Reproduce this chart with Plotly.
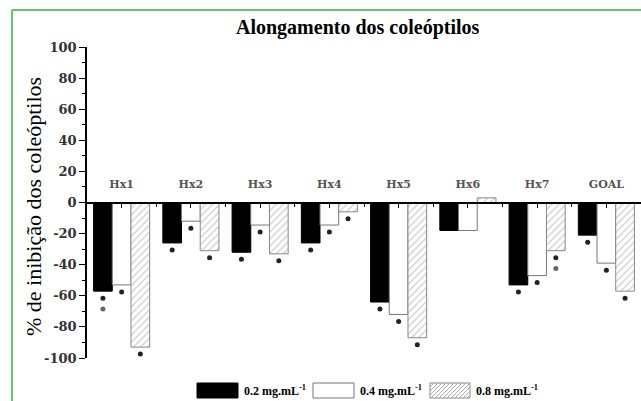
import plotly.graph_objects as go

# ---- data ----
categories = ["Hx1", "Hx2", "Hx3", "Hx4", "Hx5", "Hx6", "Hx7", "GOAL"]
conc_02 = [-57, -26, -32, -26, -64, -18, -53, -21]
conc_04 = [-53, -12, -14.5, -14.5, -72, -18, -47, -39]
conc_08 = [-93, -31, -33, -6, -87, 3, -31, -57]
sig_02 = [1, 1, 1, 1, 1, 0, 1, 1]
sig_04 = [1, 1, 1, 1, 1, 0, 1, 1]
sig_08 = [1, 1, 1, 1, 1, 0, 1, 1]
sig2_02 = [1, 0, 0, 0, 0, 0, 0, 0]
sig2_04 = [0, 0, 0, 0, 0, 0, 0, 0]
sig2_08 = [1, 0, 0, 0, 0, 0, 1, 0]
series_names = ["0.2 mg.mL<sup>-1</sup>", "0.4 mg.mL<sup>-1</sup>", "0.8 mg.mL<sup>-1</sup>"]
y_ticks = [-100, -80, -60, -40, -20, 0, 20, 40, 60, 80, 100]
y_title = "% de inibição dos coleóptilos"

SERIF = "Liberation Serif, Times New Roman, serif"
WIDE_SERIF = "DejaVu Serif, serif"
BARGAP = 0.19
x = list(range(len(categories)))

fig = go.Figure()
styles = [
    dict(marker=dict(color="black", line=dict(color="black", width=1))),
    dict(marker=dict(color="white", line=dict(color="#777", width=1))),
    dict(marker=dict(color="white", line=dict(color="#888", width=1),
                     pattern=dict(shape="/", fgcolor="#999", bgcolor="white", size=5, solidity=0.25))),
]
values = [conc_02, conc_04, conc_08]
sigs = [sig_02, sig_04, sig_08]
sigs2 = [sig2_02, sig2_04, sig2_08]
for k in range(3):
    fig.add_trace(go.Bar(x=x, y=values[k], name=series_names[k], cliponaxis=False,
                         showlegend=False, **styles[k]))

w = (1 - BARGAP) / 3
for k in range(3):
    xs, ys, xs2, ys2 = [], [], [], []
    for i in x:
        xi = i + (k - 1) * w
        if sigs[k][i]:
            xs.append(xi); ys.append(values[k][i] - 4.5)
        if sigs2[k][i]:
            xs2.append(xi); ys2.append(values[k][i] - 11.5)
    fig.add_trace(go.Scatter(x=xs, y=ys, mode="markers", cliponaxis=False, showlegend=False,
                             marker=dict(symbol="circle", size=5, color="#222")))
    if xs2:
        fig.add_trace(go.Scatter(x=xs2, y=ys2, mode="markers", cliponaxis=False, showlegend=False,
                                 marker=dict(symbol="circle", size=5, color="#666")))

fig.update_layout(
    width=641, height=401,
    margin=dict(l=87, r=0, t=47, b=43),
    paper_bgcolor="white", plot_bgcolor="white",
    barmode="group", bargap=BARGAP, bargroupgap=0,
    title=dict(text="<b>Alongamento dos coleóptilos</b>", x=0.558, xanchor="center",
               y=0.932, yanchor="middle", font=dict(family=SERIF, size=20, color="black")),
    xaxis=dict(range=[-0.5, 7.5], anchor="free", position=0.5, side="top",
               showline=True, linecolor="black", linewidth=1.5,
               tickmode="array", tickvals=x, ticktext=["<b>%s</b>" % c for c in categories],
               ticks="inside", ticklen=5, tickcolor="black", ticklabelstandoff=9,
               tickfont=dict(family=WIDE_SERIF, size=11, color="#555"),
               minor=dict(tick0=0.5, dtick=1, ticks="inside", ticklen=4, tickcolor="black"),
               showgrid=False, zeroline=False),
    yaxis=dict(range=[-100, 100], showline=True, linecolor="black", linewidth=1.5,
               tickmode="array", tickvals=y_ticks, ticktext=["<b>%d</b>" % v for v in y_ticks],
               ticks="outside", ticklen=6, tickcolor="black",
               minor=dict(dtick=10, ticks="outside", ticklen=3, tickcolor="black"),
               tickfont=dict(family=WIDE_SERIF, size=13, color="#333"),
               showgrid=False, zeroline=False),
)

# y-axis title placed as rotated annotation
fig.add_annotation(xref="paper", yref="paper", x=(33 - 87) / 554, y=(358 - 207) / 311,
                   xanchor="center", yanchor="middle", textangle=-90, showarrow=False,
                   text=y_title, font=dict(family=SERIF, size=22, color="black"))

# green frame (pixel offsets from bottom-left of plot area)
frame = dict(xref="paper", yref="paper", xsizemode="pixel", ysizemode="pixel",
             xanchor=0, yanchor=0, type="line", line=dict(color="#5cc96c", width=2))
fig.add_shape(x0=-75, x1=-75, y0=348, y1=-50, **frame)
fig.add_shape(x0=-75, x1=560, y0=348, y1=348, **frame)

# manual legend
box = dict(xref="paper", yref="paper", xsizemode="pixel", ysizemode="pixel",
           xanchor=0, yanchor=0, type="rect")
lg_y0, lg_y1 = -40, -25
boxes = [(110, 151), (226, 267), (343, 383)]
fills = [("black", "black"), ("white", "#777"), ("white", "#888")]
for (bx0, bx1), (fc, lc), name in zip(boxes, fills, series_names):
    fig.add_shape(x0=bx0, x1=bx1, y0=lg_y0, y1=lg_y1, fillcolor=fc,
                  line=dict(color=lc, width=1), **box)
    fig.add_annotation(xref="paper", yref="paper", x=(bx1 + 4) / 554, y=(lg_y0 + lg_y1) / 2 / 311,
                       xanchor="left", yanchor="middle", showarrow=False,
                       text="<b>%s</b>" % name, font=dict(family=SERIF, size=12, color="black"))
# hatch lines in the third legend box
hx0, hx1 = boxes[2]
step = 4
c = hx0 - (lg_y1 - lg_y0)
while c < hx1:
    xa, ya = c, lg_y0
    xb, yb = c + (lg_y1 - lg_y0), lg_y1
    if xa < hx0:
        ya += hx0 - xa; xa = hx0
    if xb > hx1:
        yb -= xb - hx1; xb = hx1
    if xb > xa:
        fig.add_shape(xref="paper", yref="paper", xsizemode="pixel", ysizemode="pixel",
                      xanchor=0, yanchor=0, type="line", x0=xa, x1=xb, y0=ya, y1=yb,
                      line=dict(color="#aaa", width=1))
    c += step

fig.write_html("out.html", config={"displayModeBar": False},
               post_script="document.body.style.margin='0';")
